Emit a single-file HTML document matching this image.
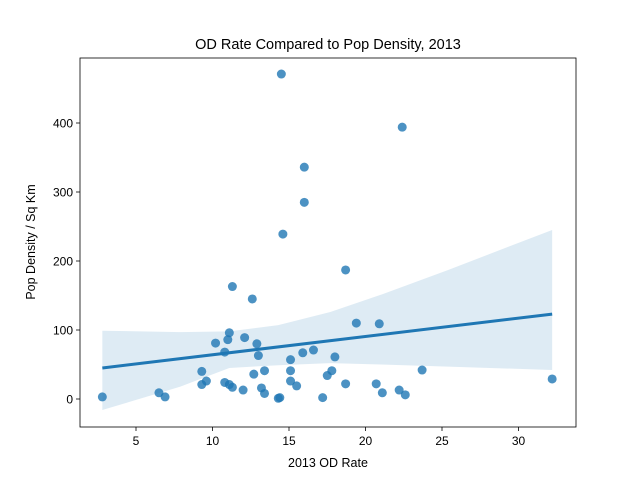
<!DOCTYPE html>
<html><head><meta charset="utf-8"><style>
body{margin:0;background:#fff}
svg{font-family:"Liberation Sans","DejaVu Sans",sans-serif}
</style></head><body>
<svg id="chart" width="640" height="480">
<rect width="640" height="480" fill="#fff"/>
<text x="328" y="49" text-anchor="middle" font-size="14.5">OD Rate Compared to Pop Density, 2013</text>
<g id="plot"></g>
<rect x="80" y="58" width="496" height="369" fill="none" stroke="#000" stroke-width="0.8"/>
<g id="xticks"></g><g id="yticks"></g>
<text x="328" y="467" text-anchor="middle" font-size="12.5">2013 OD Rate</text>
<text transform="translate(35,242) rotate(-90)" text-anchor="middle" font-size="12.5">Pop Density / Sq Km</text>
</svg>
<script>
const xs=[2.8,6.5,6.9,9.3,9.3,9.6,10.2,10.8,10.8,11.0,11.1,11.1,11.3,11.3,12.0,12.1,12.6,12.7,12.9,13.0,13.2,13.4,13.4,14.3,14.4,14.5,14.6,15.1,15.1,15.1,15.5,15.9,16.0,16.0,16.6,17.2,17.5,17.8,18.0,18.7,18.7,19.4,20.7,20.9,21.1,22.2,22.4,22.6,23.7,32.2];
const ys=[3,9,3,21,40,26,81,68,24,86,96,21,163,17,13,89,145,36,80,63,16,41,8,1,2,471,239,57,41,26,19,67,336,285,71,2,34,41,61,187,22,110,22,109,9,13,394,6,42,29];
const lineX=[2.8,32.2];
const lineY=[45,123];
const ciX=[2.8,7.9,11.1,14.3,17.7,21,25.4,32.2];
const ciHi=[99,97,98,107,126,151,187,245];
const ciLo=[-16,18,45,49,52,50,47,42];
const xTicks=[5,10,15,20,25,30];
const yTicks=[0,100,200,300,400];
const X=v=>136+(v-5)*15.3;
const Y=v=>399-v*0.69;
const NS="http://www.w3.org/2000/svg";
const plot=document.getElementById('plot');
function mk(t,a,p){const e=document.createElementNS(NS,t);for(const k in a)e.setAttribute(k,a[k]);p.appendChild(e);return e;}
let d=ciX.map((x,i)=>(i?'L':'M')+X(x)+','+Y(ciHi[i])).join('');
for(let i=ciX.length-1;i>=0;i--)d+='L'+X(ciX[i])+','+Y(ciLo[i]);
const band=mk('path',{d:d+'Z',fill:'#1f77b4','fill-opacity':0.15},plot);


xs.forEach((x,i)=>{const c=mk('circle',{cx:X(x),cy:Y(ys[i]),r:4.5,fill:'#1f77b4','fill-opacity':0.8},plot);

});
const ln=mk('line',{x1:X(lineX[0]),y1:Y(lineY[0]),x2:X(lineX[1]),y2:Y(lineY[1]),stroke:'#1f77b4','stroke-width':3},plot);


const xt=document.getElementById('xticks'),yt=document.getElementById('yticks');
xTicks.forEach(v=>{const l=mk('line',{x1:X(v),x2:X(v),y1:427,y2:431,stroke:'#000','stroke-width':0.8},xt);


const t=mk('text',{x:X(v),y:445,'text-anchor':'middle','font-size':12},xt);t.textContent=v;

});
yTicks.forEach(v=>{const l=mk('line',{x1:76,x2:80,y1:Y(v),y2:Y(v),stroke:'#000','stroke-width':0.8},yt);


const t=mk('text',{x:73,y:Y(v)+4.5,'text-anchor':'end','font-size':12},yt);t.textContent=v;

});
</script>
</body></html>
